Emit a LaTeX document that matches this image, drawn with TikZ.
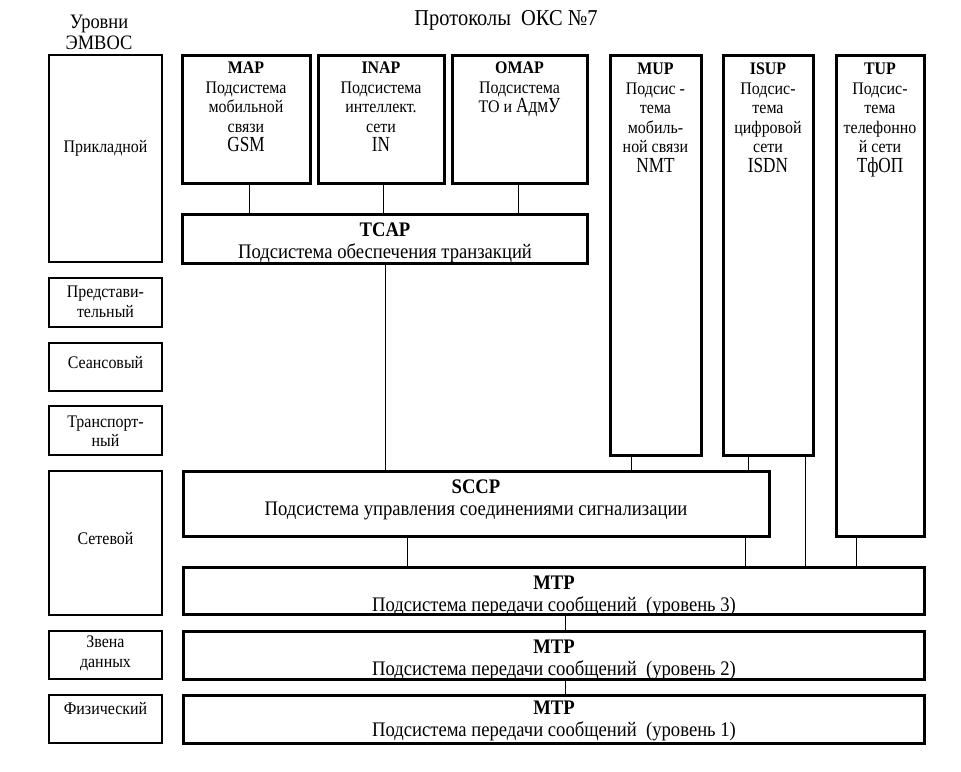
\documentclass[tikz,border=0pt]{standalone}
\usepackage{fontspec}
\setmainfont{Liberation Serif}[FakeStretch=0.9]
\newfontfamily\bigfam{Liberation Serif}[FakeStretch=0.8]
\usetikzlibrary{calc}
\newcommand\pbox[6]{\node[#2, minimum width={(#5)-(#3)}, minimum height={(#6)-(#4)}] (#1) at ({((#3)+(#5))/2},{((#4)+(#6))/2}) {};}
\newcommand\bigt[1]{{\bigfam\fontsize{21.5}{19.5}\selectfont #1}}
\begin{document}
\begin{tikzpicture}[x=1pt,y=-1pt,
  box/.style={draw, line width=3pt, inner sep=0pt},
  lvl/.style={draw, line width=1.8pt, inner sep=0pt},
  txt/.style={align=center, inner sep=0pt, font=\fontsize{17.7}{19.5}\selectfont},
  wide/.style={align=center, inner sep=0pt, anchor=north, font=\fontsize{20.7}{21.5}\selectfont},
  link/.style={line width=1.2pt}]
\useasboundingbox (0,0) rectangle (961,771);

% headers
\node[align=center, inner sep=0pt, font=\fontsize{20.5}{21}\selectfont] (hlev) at (99,32) {Уровни\\ЭМВОС};
\node[inner sep=0pt, font=\fontsize{22.7}{22}\selectfont] (hprot) at (506,20) {Протоколы\ \ ОКС №7};

% OSI levels
\pbox{l1}{lvl}{49}{55}{162}{262}
\pbox{l2}{lvl}{49}{278}{162}{327}
\pbox{l3}{lvl}{49}{343}{162}{391}
\pbox{l4}{lvl}{49}{406}{162}{455}
\pbox{l5}{lvl}{49}{471}{162}{615}
\pbox{l6}{lvl}{49}{631}{162}{679}
\pbox{l7}{lvl}{49}{695}{162}{743}
\node[txt] (l1t) at (105.5,148) {Прикладной};
\node[txt] (l2t) at (105.5,302) {Представи-\\тельный};
\node[txt] (l3t) at (105.5,363) {Сеансовый};
\node[txt] (l4t) at (105.5,431) {Транспорт-\\ный};
\node[txt] (l5t) at (105.5,539) {Сетевой};
\node[txt] (l6t) at (105.5,653.5) {Звена\\данных};
\node[txt] (l7t) at (105.5,709) {Физический};

% protocol boxes
\pbox{map}{box}{182}{55}{310}{183}
\pbox{inap}{box}{318}{55}{444}{183}
\pbox{omap}{box}{452}{55}{587}{183}
\pbox{mup}{box}{610}{55}{701}{455}
\pbox{isup}{box}{723}{55}{813}{455}
\pbox{tup}{box}{836}{55}{924}{536}
\pbox{tcap}{box}{182}{214}{587}{263}
\pbox{sccp}{box}{183}{471}{769}{536}
\pbox{mtp3}{box}{183}{567}{924}{614}
\pbox{mtp2}{box}{183}{631}{924}{679}
\pbox{mtp1}{box}{183}{695}{924}{743}

\node[txt, anchor=north] (mapt) at (246,62) {\textbf{MAP}\\Подсистема\\мобильной\\связи\\\bigt{GSM}};
\node[txt, anchor=north] (inapt) at (381,62) {\textbf{INAP}\\Подсистема\\интеллект.\\сети\\\bigt{IN}};
\node[txt, anchor=north] (omapt) at (519.5,62) {\textbf{OMAP}\\Подсистема\\ТО и \bigt{АдмУ}};
\node[txt, anchor=north] (mupt) at (655.5,63) {\textbf{MUP}\\Подсис -\\тема\\мобиль-\\ной связи\\\bigt{NMT}};
\node[txt, anchor=north] (isupt) at (768,63) {\textbf{ISUP}\\Подсис-\\тема\\цифровой\\сети\\\bigt{ISDN}};
\node[txt, anchor=north] (tupt) at (880,63) {\textbf{TUP}\\Подсис-\\тема\\телефонно\\й сети\\\bigt{ТфОП}};

\node[wide] (tcapt) at (385,223) {\textbf{TCAP}\\Подсистема обеспечения транзакций};
\node[wide] (sccpt) at (476,480) {\textbf{SCCP}\\Подсистема управления соединениями сигнализации};
\node[wide] (mtp3t) at (554,576) {\textbf{MTP}\\Подсистема передачи сообщений\ \ (уровень 3)};
\node[wide] (mtp2t) at (554,640) {\textbf{MTP}\\Подсистема передачи сообщений\ \ (уровень 2)};
\node[wide] (mtp1t) at (554,701) {\textbf{MTP}\\Подсистема передачи сообщений\ \ (уровень 1)};

% connectors
\draw[link] ($(map.south west)+(69,0)$) -- ($(tcap.north west)+(69,0)$);
\draw[link] ($(inap.south west)+(67,0)$) -- ($(tcap.north west)+(203,0)$);
\draw[link] ($(omap.south west)+(68,0)$) -- ($(tcap.north west)+(338,0)$);
\draw[link] ($(tcap.south west)+(205,0)$) -- ($(sccp.north west)+(204,0)$);
\draw[link] ($(mup.south west)+(23,0)$) -- ($(sccp.north west)+(450,0)$);
\draw[link] ($(isup.south west)+(27,0)$) -- ($(sccp.north west)+(567,0)$);
\draw[link] ($(sccp.south west)+(226,0)$) -- ($(mtp3.north west)+(226,0)$);
\draw[link] ($(sccp.south west)+(564,0)$) -- ($(mtp3.north west)+(564,0)$);
\draw[link] ($(isup.south west)+(84,0)$) -- ($(mtp3.north west)+(624,0)$);
\draw[link] ($(tup.south west)+(22,0)$) -- ($(mtp3.north west)+(675,0)$);
\draw[link] ($(mtp3.south west)+(384,0)$) -- ($(mtp2.north west)+(384,0)$);
\draw[link] ($(mtp2.south west)+(384,0)$) -- ($(mtp1.north west)+(384,0)$);
\end{tikzpicture}
\end{document}
